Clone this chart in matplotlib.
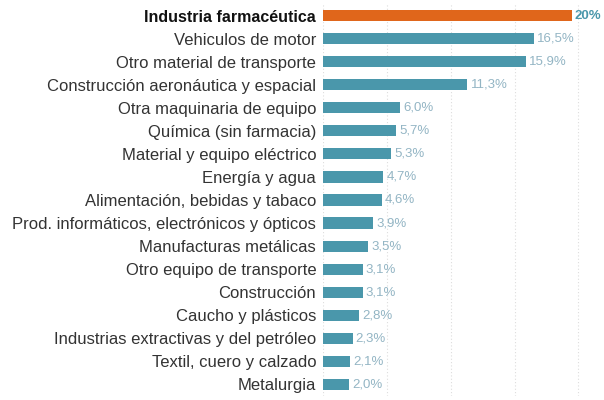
import matplotlib.pyplot as plt

plt.rcParams['font.family'] = ['Liberation Sans', 'DejaVu Sans']

sectores = [
    'Industria farmacéutica',
    'Vehiculos de motor',
    'Otro material de transporte',
    'Construcción aeronáutica y espacial',
    'Otra maquinaria de equipo',
    'Química (sin farmacia)',
    'Material y equipo eléctrico',
    'Energía y agua',
    'Alimentación, bebidas y tabaco',
    'Prod. informáticos, electrónicos y ópticos',
    'Manufacturas metálicas',
    'Otro equipo de transporte',
    'Construcción',
    'Caucho y plásticos',
    'Industrias extractivas y del petróleo',
    'Textil, cuero y calzado',
    'Metalurgia',
]
# la barra de farmacéutica se ve algo más corta que 20 en el original
valores = [19.5, 16.5, 15.9, 11.3, 6.0, 5.7, 5.3, 4.7, 4.6, 3.9, 3.5, 3.1, 3.1, 2.8, 2.3, 2.1, 2.0]
etiquetas = ['20%', '16,5%', '15,9%', '11,3%', '6,0%', '5,7%', '5,3%', '4,7%', '4,6%',
             '3,9%', '3,5%', '3,1%', '3,1%', '2,8%', '2,3%', '2,1%', '2,0%']

naranja = '#e0661b'
azul = '#4a97ab'

fig = plt.figure(figsize=(6.04, 4.0), dpi=100)
ax = fig.add_axes([0.535, 0.011, 0.465, 0.978])

y = list(range(len(sectores)))
colores = [naranja] + [azul] * (len(sectores) - 1)
ax.barh(y, valores, height=0.48, color=colores, zorder=2)

for i, (v, t) in enumerate(zip(valores, etiquetas)):
    if i == 0:
        ax.text(v + 0.2, i, t, va='center', ha='left', fontsize=9.5,
                color=azul, fontweight='bold')
    else:
        ax.text(v + 0.25, i, t, va='center', ha='left', fontsize=9.5,
                color='#93b5c4')

ax.set_yticks(y)
ax.set_yticklabels(sectores, fontsize=12, color='#333333')
ax.get_yticklabels()[0].set_fontweight('bold')
ax.get_yticklabels()[0].set_fontsize(11.5)
ax.get_yticklabels()[0].set_color('#111111')
ax.tick_params(axis='y', length=0, pad=5)

ax.set_xlim(0, 22.0)
ax.set_ylim(len(sectores) - 0.5, -0.5)
ax.set_xticks([0, 5, 10, 15, 20])
ax.xaxis.grid(True, linestyle=(0, (1, 2)), color='#dddddd', linewidth=0.8, zorder=0)
ax.tick_params(axis='x', length=0, labelbottom=False)
for s in ax.spines.values():
    s.set_visible(False)

plt.savefig('out.png', dpi=100)
